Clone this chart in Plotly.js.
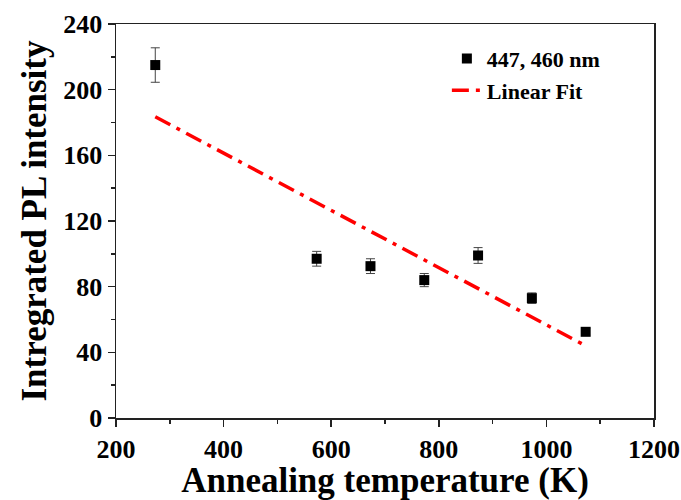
<!DOCTYPE html>
<html>
<head>
<meta charset="utf-8">
<script src="https://cdn.plot.ly/plotly-3.0.1.min.js"></script>
<style>html,body{margin:0;padding:0;background:#fff;}#chart{width:681px;height:500px;}</style>
</head>
<body>
<div id="chart"></div>
<script>
const temperature = [273, 573, 673, 773, 873, 973, 1073];
const intensity = [215, 97, 92.5, 84, 99, 73, 52.5];
const intensityErr = [10.5, 4.5, 4.5, 4, 4.8, 3.2, 2];
const fitX = [273, 1073];
const fitY = [183.5, 44];
const seriesName = '447, 460 nm';
const fitName = 'Linear Fit';

const font = 'Liberation Serif, Times New Roman, serif';

const data = [
  {
    x: temperature, y: intensity, type: 'scatter', mode: 'markers', name: seriesName,
    marker: {symbol: 'square', size: 10, color: '#000'},
    error_y: {type: 'data', array: intensityErr, visible: true, color: '#444', thickness: 1, width: 4.5}
  },
  {
    x: fitX, y: fitY, type: 'scatter', mode: 'lines', name: fitName,
    line: {color: '#ff0000', width: 3.5, dash: '17px,7px,4px,7px'}
  }
];

const axisCommon = {
  showline: true, linecolor: '#222', linewidth: 1.5, mirror: true,
  ticks: 'outside', ticklen: 7, tickwidth: 1.5, tickcolor: '#222',
  showgrid: false, zeroline: false,
  tickfont: {family: font, size: 26, color: '#000', weight: 'bold'}
};

const layout = {
  width: 681, height: 500,
  margin: {l: 116, r: 27, t: 24, b: 82},
  paper_bgcolor: '#fff', plot_bgcolor: '#fff',
  showlegend: true,
  legend: {
    x: 0.615, y: 0.965, xanchor: 'left', yanchor: 'top',
    bgcolor: 'rgba(0,0,0,0)', borderwidth: 0, tracegroupgap: 0,
    font: {family: font, size: 22, color: '#000', weight: 'bold'}
  },
  xaxis: Object.assign({}, axisCommon, {
    range: [200, 1200], dtick: 200, tick0: 200,
    minor: {dtick: 100, ticklen: 4, tickwidth: 1.5, tickcolor: '#222', ticks: 'outside'},
    title: {text: 'Annealing temperature (K)', font: {family: font, size: 35, color: '#000', weight: 'bold'}, standoff: 4}
  }),
  yaxis: Object.assign({}, axisCommon, {
    range: [0, 240], dtick: 40, tick0: 0,
    minor: {dtick: 20, ticklen: 4, tickwidth: 1.5, tickcolor: '#222', ticks: 'outside'},
    title: {text: 'Intregrated PL intensity', font: {family: font, size: 35, color: '#000', weight: 'bold'}, standoff: 6}
  })
};

Plotly.newPlot('chart', data, layout, {displayModeBar: false, staticPlot: true});
</script>
</body>
</html>
